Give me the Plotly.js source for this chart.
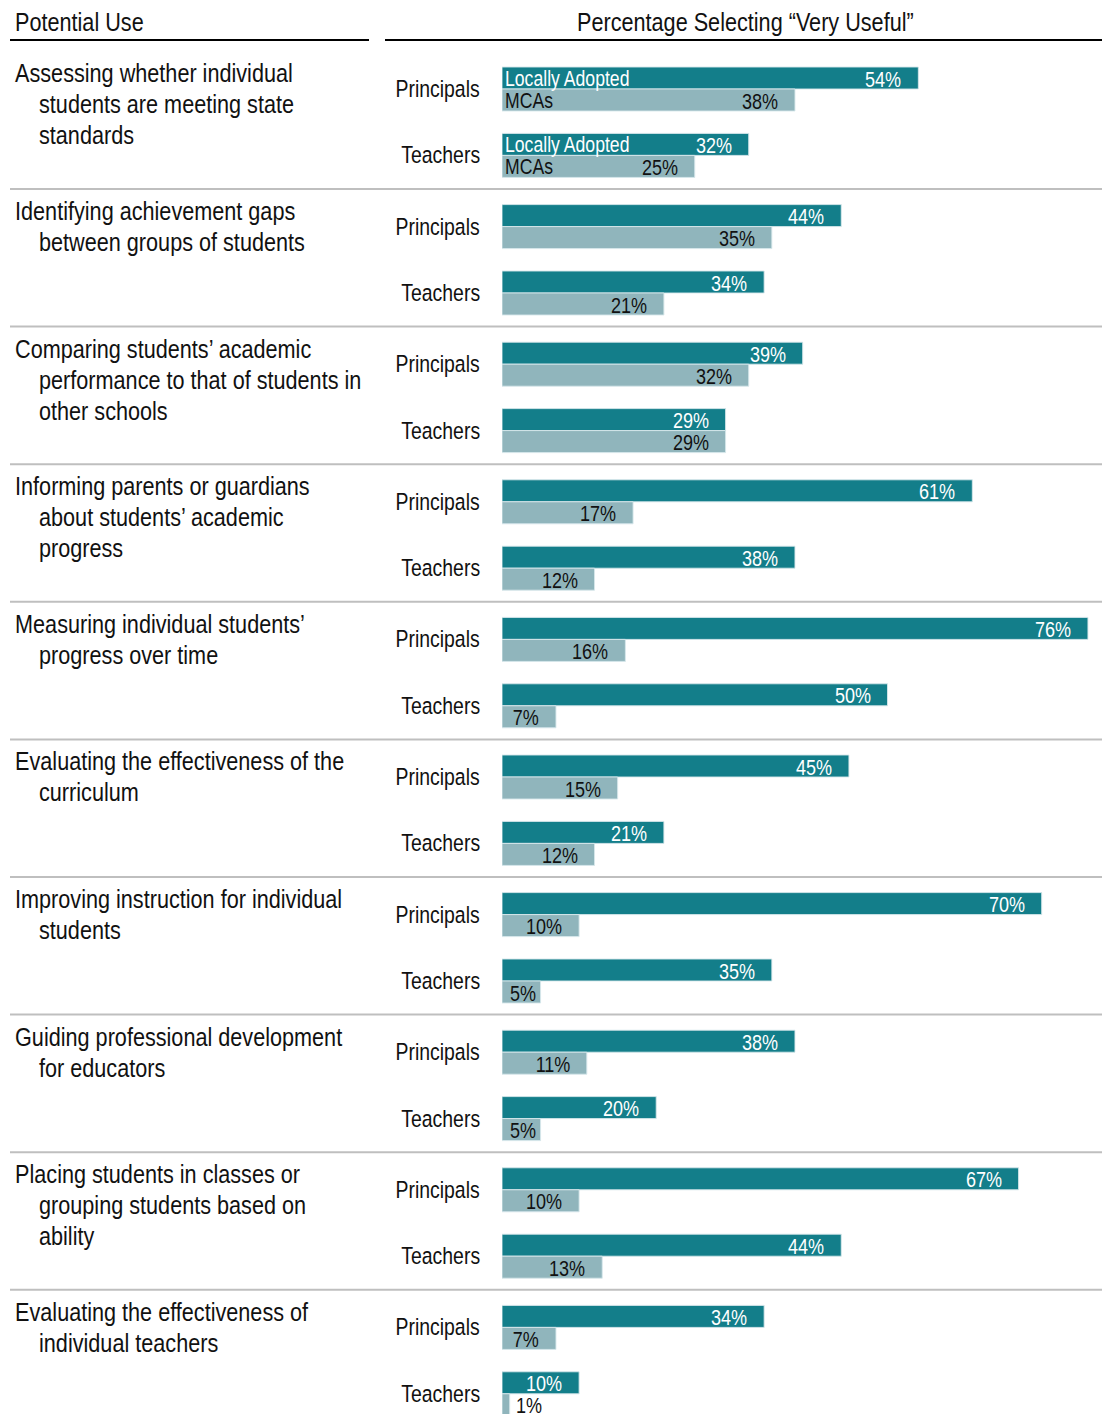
<!DOCTYPE html>
<html>
<head>
<meta charset="utf-8">
<script src="https://cdn.plot.ly/plotly-3.0.1.min.js"></script>
<style>html,body{margin:0;padding:0;background:#fff;}#chart{width:1102px;height:1414px;}</style>
</head>
<body>
<div id="chart"></div>
<script>
// ---------- data ----------
const categories = [
  "Assessing whether individual\nstudents are meeting state\nstandards",
  "Identifying achievement gaps\nbetween groups of students",
  "Comparing students’ academic\nperformance to that of students in\nother schools",
  "Informing parents or guardians\nabout students’ academic\nprogress",
  "Measuring individual students’\nprogress over time",
  "Evaluating the effectiveness of the\ncurriculum",
  "Improving instruction for individual\nstudents",
  "Guiding professional development\nfor educators",
  "Placing students in classes or\ngrouping students based on\nability",
  "Evaluating the effectiveness of\nindividual teachers"
];
const respondents = ["Principals", "Teachers"];
const seriesNames = ["Locally Adopted", "MCAs"];
const locallyPrincipals = [54, 44, 39, 61, 76, 45, 70, 38, 67, 34];
const mcaPrincipals     = [38, 35, 32, 17, 16, 15, 10, 11, 10, 7];
const locallyTeachers   = [32, 34, 29, 38, 50, 21, 35, 20, 44, 10];
const mcaTeachers       = [25, 21, 29, 12, 7, 12, 5, 5, 13, 1];
const headerLeft = "Potential Use";
const headerRight = "Percentage Selecting “Very Useful”";

// ---------- layout constants ----------
const W = 1102, H = 1414;
const FONT = "'Liberation Sans', Arial, sans-serif";
const NARROW = 0.82; // horizontal condensing, to mimic a narrow face
const TEAL = "#137E8A", LIGHT = "#90B5BC";
const GROUP = 137.6, BASE0 = 51.4;
const BAR = 22;
const X0PX = 502, PXPERPCT = 7.71;
const xMax = (W - X0PX) / PXPERPCT;
const px = v => v / W;
const VAL_SIZE = 22, RESP_SIZE = 23.7, CAT_SIZE = 26.4;

const rowsY = [], laVals = [], mcaVals = [];
categories.forEach((c, i) => {
  const base = BASE0 + i * GROUP;
  rowsY.push(base + 37.6, base + 104);
  laVals.push(locallyPrincipals[i], locallyTeachers[i]);
  mcaVals.push(mcaPrincipals[i], mcaTeachers[i]);
});

const traces = [
  {type: "bar", orientation: "h", name: seriesNames[0], x: laVals, y: rowsY.map(y => y - BAR / 2),
   width: BAR, marker: {color: TEAL, line: {color: "rgba(215,232,235,0.9)", width: 1}}, hoverinfo: "skip"},
  {type: "bar", orientation: "h", name: seriesNames[1], x: mcaVals, y: rowsY.map(y => y + BAR / 2),
   width: BAR, marker: {color: LIGHT, line: {color: "rgba(215,232,235,0.9)", width: 1}}, hoverinfo: "skip"}
];

const annotations = [];
const shapes = [];
const txtW = s => (s.replace(/%/g, "").length * 556 + 889) * NARROW * VAL_SIZE / 1000;

function valueLabel(v, y, color) {
  const t = v + "%";
  const barPx = v * PXPERPCT;
  const w = txtW(t);
  if (barPx < w + 8) {
    annotations.push({xref: "x", yref: "y", x: v, y: y, text: t, showarrow: false, xanchor: "left", xshift: 4,
      font: {family: FONT, size: VAL_SIZE, color: "#111"}});
  } else if (barPx - 16 - w < 6) {
    annotations.push({xref: "x", yref: "y", x: 0, y: y, text: t, showarrow: false, xanchor: "left", xshift: 6,
      font: {family: FONT, size: VAL_SIZE, color: color}});
  } else {
    annotations.push({xref: "x", yref: "y", x: v, y: y, text: t, showarrow: false, xanchor: "right", xshift: -15,
      font: {family: FONT, size: VAL_SIZE, color: color}});
  }
}

rowsY.forEach((y, k) => {
  valueLabel(laVals[k], y - BAR / 2 + 1, "#fff");
  valueLabel(mcaVals[k], y + BAR / 2 + 1, "#111");
  annotations.push({xref: "paper", yref: "y", x: px(482), y: y, text: respondents[k % 2], showarrow: false,
    xanchor: "right", font: {family: FONT, size: RESP_SIZE, color: "#111"}});
  if (k < 2) {
    annotations.push({xref: "x", yref: "y", x: 0, y: y - BAR / 2 + 1, text: seriesNames[0], showarrow: false,
      xanchor: "left", xshift: 1, font: {family: FONT, size: 21.5, color: "#fff"}});
    annotations.push({xref: "x", yref: "y", x: 0, y: y + BAR / 2 + 1, text: seriesNames[1], showarrow: false,
      xanchor: "left", xshift: 1, font: {family: FONT, size: 21.5, color: "#111"}});
  }
});

categories.forEach((c, i) => {
  const base = BASE0 + i * GROUP;
  c.split("\n").forEach((line, j) => {
    annotations.push({xref: "paper", yref: "y", x: px(j === 0 ? 13 : 37), y: base + 22 + j * 31, text: line,
      showarrow: false, xanchor: "left", font: {family: FONT, size: CAT_SIZE, color: "#111"}});
  });
  if (i < categories.length - 1) {
    shapes.push({type: "line", xref: "paper", yref: "y", x0: px(10), x1: 1, y0: base + GROUP, y1: base + GROUP,
      line: {color: "#BFBFBF", width: 2}});
  }
});

annotations.push({xref: "paper", yref: "y", x: px(13), y: 22, text: headerLeft, showarrow: false, xanchor: "left",
  font: {family: FONT, size: CAT_SIZE, color: "#111"}});
annotations.push({xref: "paper", yref: "y", x: px(745.5), y: 22, text: headerRight, showarrow: false, xanchor: "center",
  font: {family: FONT, size: CAT_SIZE, color: "#111"}});
shapes.push({type: "line", xref: "paper", yref: "y", x0: px(10), x1: px(369), y0: 40, y1: 40, line: {color: "#000", width: 2}});
shapes.push({type: "line", xref: "paper", yref: "y", x0: px(385), x1: 1, y0: 40, y1: 40, line: {color: "#000", width: 2}});

const layout = {
  width: W, height: H,
  margin: {l: 0, r: 0, t: 0, b: 0, pad: 0},
  paper_bgcolor: "#fff", plot_bgcolor: "rgba(0,0,0,0)",
  showlegend: false,
  barmode: "overlay",
  xaxis: {domain: [X0PX / W, 1], range: [0, xMax], visible: false, fixedrange: true},
  yaxis: {range: [H, 0], visible: false, fixedrange: true},
  annotations: annotations,
  shapes: shapes
};

Plotly.newPlot("chart", traces, layout, {displayModeBar: false, staticPlot: true}).then(gd => {
  // condense each text horizontally around its anchor edge (narrow typeface look)
  gd.querySelectorAll("g.annotation").forEach(g => {
    const ann = layout.annotations[+g.getAttribute("data-index")];
    const t = g.querySelector("text.annotation-text");
    if (!ann || !t) return;
    const bb = t.getBBox();
    const p = ann.xanchor === "left" ? bb.x : ann.xanchor === "right" ? bb.x + bb.width : bb.x + bb.width / 2;
    t.setAttribute("transform", `translate(${p},0) scale(${NARROW},1) translate(${-p},0)`);
  });
});
</script>
</body>
</html>
